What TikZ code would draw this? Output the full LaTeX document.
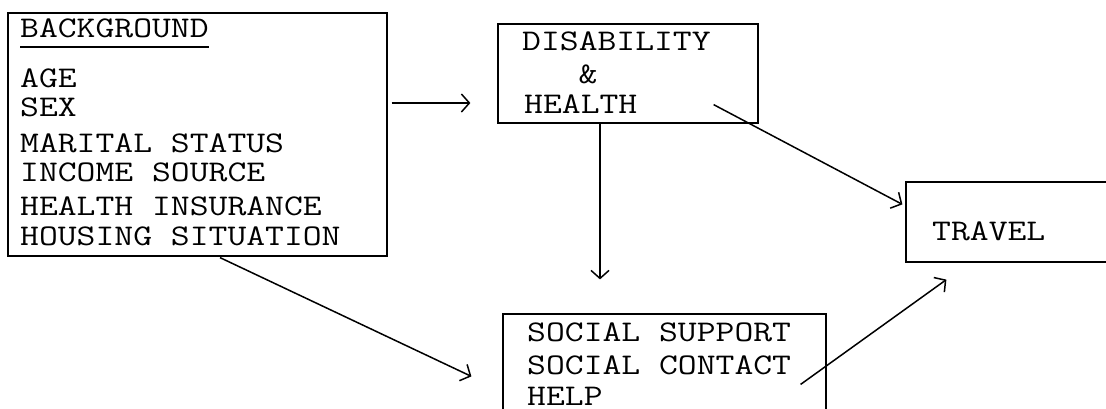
\documentclass[tikz,border=0pt]{standalone}
\usepackage{fontspec}
\newfontfamily\typew{Latin Modern Mono}[FakeStretch=1.22]
\usetikzlibrary{arrows.meta}

\begin{document}
\begin{tikzpicture}[x=1pt, y=-1pt,
    box/.style={draw, line width=1.2pt, inner sep=0pt},
    txt/.style={font=\typew\fontsize{30}{31}\selectfont, anchor=base west, inner sep=0pt},
    arr/.style={-{Straight Barb[length=8pt, width=18pt]}, line width=1.5pt}]
    \useasboundingbox (0,0) rectangle (1106,408);
    \clip (0,0) rectangle (1106,408);

    % Background
    \node[box, minimum width=379pt, minimum height=243pt] (bg) at (197.5, 134.5) {};
    \node[txt] (bgtitle) at (20, 37) {BACKGROUND};
    \draw[line width=1.2pt] ([yshift=-10pt]bgtitle.base west) -- ([yshift=-10pt]bgtitle.base east);
    \node[txt] (age) at (20, 87) {AGE};
    \node[txt] (sex) at (20, 116) {SEX};
    \node[txt] (marital) at (20, 152) {MARITAL STATUS};
    \node[txt] (income) at (20, 181) {INCOME SOURCE};
    \node[txt] (insurance) at (20, 215) {HEALTH INSURANCE};
    \node[txt] (housing) at (20, 245) {HOUSING SITUATION};

    % Disability and health
    \node[box, minimum width=260pt, minimum height=99pt] (dis) at (628, 73.5) {};
    \node[txt] (disab) at (522, 50) {DISABILITY};
    \node[txt, anchor=base] (amp) at (588, 83) {\&};
    \node[txt] (health) at (524, 113) {HEALTH};

    % Travel
    \node[box, minimum width=219pt, minimum height=80pt] (travel) at (1015.5, 222) {};
    \node[txt] (travtxt) at (932, 240) {TRAVEL};

    % Social
    \node[box, minimum width=323pt, minimum height=111pt] (social) at (664.5, 369.5) {};
    \node[txt] (support) at (527, 341) {SOCIAL SUPPORT};
    \node[txt] (contact) at (527, 374) {SOCIAL CONTACT};
    \node[txt] (help) at (527, 405) {HELP};

    % Arrows
    \draw[arr, shorten <=4pt, shorten >=27pt] ([yshift=31.5pt]bg.east) -- ([yshift=31.5pt]bg.east -| dis.west);
    \draw[arr, shorten >=34pt] ([xshift=-28pt]dis.south) -- ([xshift=-28pt]dis.south |- social.north);
    \draw[arr] ([xshift=-45pt, yshift=19pt]dis.south east) -- ([xshift=-3pt, yshift=-23pt]travel.north west);
    \draw[arr] ([xshift=22.5pt, yshift=-1pt]bg.south) -- ([xshift=-31pt, yshift=-63pt]social.north west);
    \draw[arr] ([xshift=-26pt, yshift=-71pt]social.north east) -- ([xshift=41pt, yshift=-17pt]travel.south west);
\end{tikzpicture}
\end{document}
